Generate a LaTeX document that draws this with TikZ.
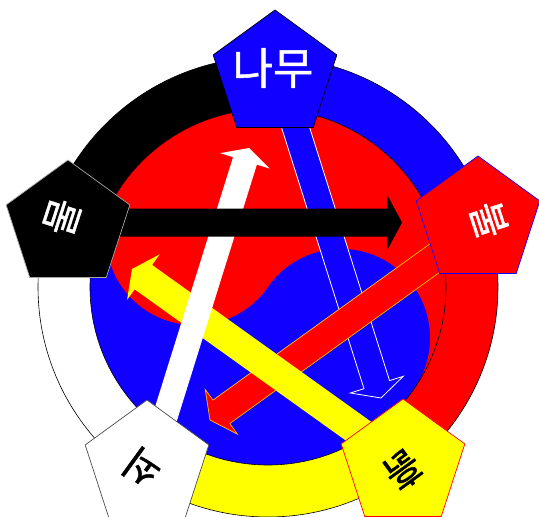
\documentclass[tikz,border=0pt]{standalone}
\usepackage{fontspec}
\newfontfamily\kr[FakeBold=1.2]{Noto Sans CJK KR}
\usetikzlibrary{calc,shapes.geometric}
\definecolor{tblue}{RGB}{16,0,255}
\definecolor{tred}{RGB}{255,0,0}
\definecolor{tyellow}{RGB}{255,255,0}
\definecolor{tedge}{RGB}{255,190,0}
\newcommand{\ringseg}[3]{%
  \fill[#1] ($(C)+(#2:230)$) arc[start angle=#2, end angle=#3, radius=230]
    -- ($(C)+(#3:178)$) arc[start angle=#3, end angle=#2, radius=178] -- cycle;}
\newcommand{\fatarrow}[6]{%
  \coordinate (hb) at ($(#3)!#6!(#2)$);
  \path[#1] ($(#2)!#4!90:(#3)$) -- ($(hb)!#4!-90:(#2)$) -- ($(hb)!#5!-90:(#2)$)
    -- (#3) -- ($(hb)!#5!90:(#2)$) -- ($(hb)!#4!90:(#2)$) -- ($(#2)!#4!-90:(#3)$) -- cycle;}
\begin{document}
\begin{tikzpicture}[x=1pt,y=-1pt,
  pent/.style={regular polygon, regular polygon sides=5, minimum size=130pt, inner sep=0pt, line width=0.7pt},
  ktxt/.style={inner sep=0pt, font=\kr\fontsize{39}{44}\selectfont}]
\useasboundingbox (0,0) rectangle (539,517);
\fill[white] (0,0) rectangle (539,517);
\coordinate (C) at (268,287);
% outer ring
\ringseg{tblue}{-88}{-17.4}
\ringseg{tred}{-17.4}{52.7}
\ringseg{tyellow}{52.7}{124.2}
\ringseg{white}{124.2}{197.2}
\ringseg{black}{197.2}{272}
\draw[line width=0.6pt] (C) circle[radius=230];
% taeguk disc
\fill[tblue] (C) circle[radius=178];
\fill[tred] ($(C)+(34.9:178)$) arc[start angle=34.9, end angle=-145.1, radius=178] -- cycle;
\fill[tred] ($(C)+(214.9:89)$) circle[radius=89];
\fill[tblue] ($(C)+(34.9:89)$) circle[radius=89];
\draw[line width=0.6pt] (C) circle[radius=178];
% arrow ends
\coordinate (blueS) at (279,75);   \coordinate (blueT) at (381,398);
\coordinate (redS) at (478,227);   \coordinate (redT) at (210,420);
\coordinate (yelS) at (403,463);   \coordinate (yelT) at (132,269);
\coordinate (whiS) at (150,465);   \coordinate (whiT) at (249,148);
\coordinate (blaS) at (68,222.5);  \coordinate (blaT) at (402,222.5);
% arrows
\fatarrow{fill=tblue, draw=white, line width=0.8pt}{blueS}{blueT}{13.4pt}{27.7pt}{14pt}
\fatarrow{fill=tred, draw=tedge, line width=0.7pt}{redS}{redT}{14.4pt}{27.6pt}{14pt}
\fatarrow{fill=tyellow}{yelS}{yelT}{15pt}{28pt}{14pt}
\fatarrow{fill=white}{whiS}{whiT}{12.5pt}{26pt}{13.5pt}
\fatarrow{fill=black}{blaS}{blaT}{14pt}{28pt}{15pt}
% pentagons
\node[pent, fill=tblue, draw=black] (wood) at (275,75) {};
\node[pent, fill=tred, draw=tblue] (fire) at (478,221) {};
\node[pent, fill=tyellow, draw=tred] (earth) at (403,464) {};
\node[pent, fill=white, draw=black!70] (metal) at (147,465) {};
\node[pent, fill=black, draw=black!35] (water) at (68,225) {};
% labels
\node[ktxt, text=white, font=\kr\fontsize{44}{48}\selectfont] (woodt) at (273,68) {나무};
\node[ktxt, text=white, rotate=-72] (firet) at (489,220) {불};
\node[ktxt, text=black, rotate=-144] (eartht) at (403,470) {흙};
\node[ktxt, text=black, rotate=144] (metalt) at (142,468) {쇠};
\node[ktxt, text=white, rotate=72] (watert) at (62,217) {물};
\end{tikzpicture}
\end{document}
